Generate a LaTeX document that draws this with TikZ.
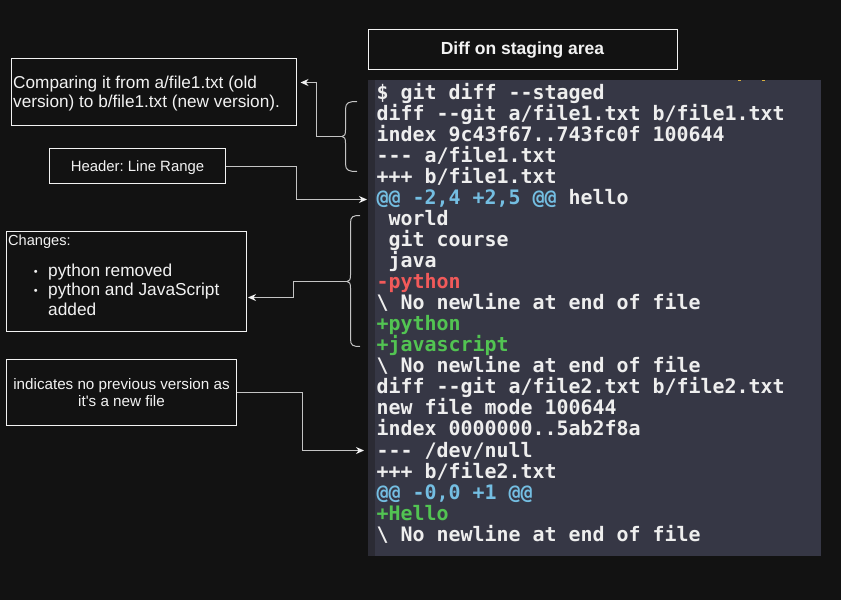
\documentclass[tikz,border=0pt]{standalone}
\usepackage{fontspec}
\setmainfont{Liberation Sans}
\newfontfamily\codefont{DejaVu Sans Mono}
\usetikzlibrary{arrows.meta}
\definecolor{bg}{HTML}{121212}
\definecolor{panel}{HTML}{363745}
\definecolor{strip}{HTML}{2B2B34}
\definecolor{boxline}{HTML}{F2F2F2}
\definecolor{conncol}{HTML}{C4C4C4}
\definecolor{txt}{HTML}{F2F2F2}
\definecolor{codewhite}{HTML}{EEEEEE}
\definecolor{hunk}{HTML}{74BEE2}
\definecolor{delred}{HTML}{F25A5A}
\definecolor{addgreen}{HTML}{52C452}
\definecolor{markyellow}{HTML}{D8B040}
\newcommand\twodash{-\kern0pt-}
\newcommand\threedash{-\kern0pt-\kern0pt-}
\frenchspacing
\begin{document}
\begin{tikzpicture}[x=1pt,y=-1pt,
  box/.style={draw=boxline, line width=1pt, inner sep=0pt},
  lbl/.style={inner sep=0pt, text=txt},
  code/.style={anchor=base west, inner sep=0pt, text=codewhite,
    font=\codefont\bfseries\fontsize{19.93}{21}\selectfont},
  conn/.style={draw=conncol, line width=1pt, -{Stealth[length=8pt,width=7pt,fill=boxline,color=boxline]}},
  bracecurve/.style={draw=conncol, line width=1pt}
]
\useasboundingbox (0,0) rectangle (841,600);
\fill[bg] (0,0) rectangle (841,600);

% terminal panel
\fill[panel] (368,80) rectangle (821,556);
\fill[strip] (368,80) rectangle (375,556);
\fill[markyellow] (738,80) rectangle (741,81.3);
\fill[markyellow] (762,80) rectangle (765,81.3);

% code lines
\node[code] (l1) at (376.5,99.5) {\$ git diff \twodash{}staged};
\node[code] (l2) at (376.5,120.53) {diff \twodash{}git a/file1.txt b/file1.txt};
\node[code] (l3) at (376.5,141.56) {index 9c43f67..743fc0f 100644};
\node[code] (l4) at (376.5,162.59) {\threedash{} a/file1.txt};
\node[code] (l5) at (376.5,183.62) {+++ b/file1.txt};
\node[code] (l6) at (376.5,204.65) {\textcolor{hunk}{@@ -2,4 +2,5 @@} hello};
\node[code] (l7) at (376.5,225.68) {\ world};
\node[code] (l8) at (376.5,246.71) {\ git course};
\node[code] (l9) at (376.5,267.74) {\ java};
\node[code, text=delred] (l10) at (376.5,288.77) {-python};
\node[code] (l11) at (376.5,309.8) {\textbackslash\ No newline at end of file};
\node[code, text=addgreen] (l12) at (376.5,330.83) {+python};
\node[code, text=addgreen] (l13) at (376.5,351.86) {+javascript};
\node[code] (l14) at (376.5,372.89) {\textbackslash\ No newline at end of file};
\node[code] (l15) at (376.5,393.92) {diff \twodash{}git a/file2.txt b/file2.txt};
\node[code] (l16) at (376.5,414.95) {new file mode 100644};
\node[code] (l17) at (376.5,435.98) {index 0000000..5ab2f8a};
\node[code] (l18) at (376.5,457.01) {\threedash{} /dev/null};
\node[code] (l19) at (376.5,478.04) {+++ b/file2.txt};
\node[code, text=hunk] (l20) at (376.5,499.07) {@@ -0,0 +1 @@};
\node[code, text=addgreen] (l21) at (376.5,520.1) {+Hello};
\node[code] (l22) at (376.5,541.13) {\textbackslash\ No newline at end of file};

% boxes
\node[box, minimum width=309pt, minimum height=40pt] (title) at (523,49.5) {};
\node[box, minimum width=285pt, minimum height=67pt] (cmp) at (154,92) {};
\node[box, minimum width=176pt, minimum height=35pt] (hdr) at (137.5,166) {};
\node[box, minimum width=240pt, minimum height=100pt] (chg) at (126.5,281.5) {};
\node[box, minimum width=230pt, minimum height=66pt] (ind) at (121.5,392.5) {};

% box texts
\node[lbl, anchor=base, font=\bfseries\fontsize{17.5}{20}\selectfont] (titletxt) at (522.5,54.7) {Diff on staging area};
\node[lbl, anchor=base west, font=\fontsize{17.2}{20}\selectfont] (cmpa) at (13,88.3) {Comparing it from a/file1.txt (old};
\node[lbl, anchor=base west, font=\fontsize{17.2}{20}\selectfont] (cmpb) at (13,107.5) {version) to b/file1.txt (new version).};
\node[lbl, anchor=base, font=\fontsize{14.9}{18}\selectfont] (hdrtxt) at (137.5,171.7) {Header: Line Range};
\node[lbl, anchor=base west, font=\fontsize{14.6}{18}\selectfont] (chga) at (8,245.7) {Changes:};
\node[lbl, anchor=base, font=\fontsize{11}{14}\selectfont] (bula) at (35.7,275) {\textbullet};
\node[lbl, anchor=base, font=\fontsize{11}{14}\selectfont] (bulb) at (35.7,294.5) {\textbullet};
\node[lbl, anchor=base west, font=\fontsize{17.3}{20}\selectfont] (chgb) at (48,276) {python removed};
\node[lbl, anchor=base west, font=\fontsize{17.3}{20}\selectfont] (chgc) at (48,295.5) {python and JavaScript};
\node[lbl, anchor=base west, font=\fontsize{17.3}{20}\selectfont] (chgd) at (48,315) {added};
\node[lbl, anchor=base, font=\fontsize{15.2}{18}\selectfont] (inda) at (121.5,389) {indicates no previous version as};
\node[lbl, anchor=base, font=\fontsize{15.2}{18}\selectfont] (indb) at (121.5,406) {it\textquotesingle s a new file};

% braces
\coordinate (b1) at (342,136.5);
\coordinate (b2) at (347,281.5);
\draw[bracecurve] (357,101.5) .. controls (349,101.5) and (345.5,102.5) .. (345.5,109)
  -- (345.5,130) .. controls (345.5,134.5) and (344.5,136.5) .. (b1)
  .. controls (344.5,136.5) and (345.5,138.5) .. (345.5,143)
  -- (345.5,164) .. controls (345.5,170.5) and (349,171.5) .. (357,171.5);
\draw[bracecurve] (360,215.5) .. controls (353,215.5) and (350.5,216.5) .. (350.5,223)
  -- (350.5,275) .. controls (350.5,279.5) and (349.5,281.5) .. (b2)
  .. controls (349.5,281.5) and (350.5,283.5) .. (350.5,288)
  -- (350.5,339) .. controls (350.5,345.5) and (353,346.5) .. (360,346.5);

% connector end points
\coordinate (t2) at (367,199.5);
\coordinate (t4) at (364,450.5);

% connectors
\draw[conn] (b1) -- (316.5,136.5) |- ([shift={(3.5,-9.5)}]cmp.east);
\draw[conn] (hdr.east) -- (296.5,166) |- (t2);
\draw[conn] (b2) -- (293.5,281.5) |- ([shift={(1,16)}]chg.east);
\draw[conn] (ind.east) -- (302.5,392.5) |- (t4);
\end{tikzpicture}
\end{document}
